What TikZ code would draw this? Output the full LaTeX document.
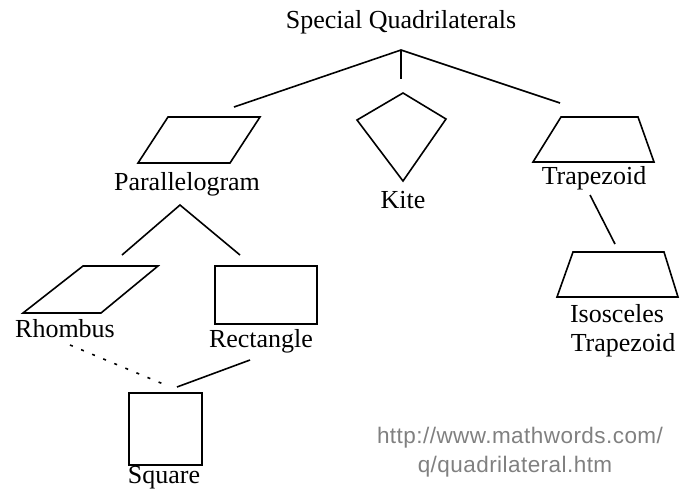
\documentclass[tikz,border=0pt]{standalone}
\usepackage{fontspec}
\setmainfont{Liberation Serif}
\newfontfamily\urlfont[LetterSpace=2]{Liberation Sans}
\begin{document}
\begin{tikzpicture}[x=1pt,y=-1pt,
  lbl/.style={anchor=base,inner sep=0pt,font=\fontsize{26}{28}\selectfont},
  urltext/.style={anchor=base,inner sep=0pt,text=black!50,font=\urlfont\fontsize{22.5}{24}\selectfont},
  shapeline/.style={line width=1.6pt,line join=miter},
  link/.style={line width=1.6pt},
  dotlink/.style={line width=1.6pt,dash pattern=on 3pt off 9pt}]
\useasboundingbox (0,0) rectangle (688,490);
% title and top branches
\node[lbl] (title) at (401,28) {Special Quadrilaterals};
\coordinate (top) at (401,50);
\coordinate (topdown) at (401,79);
\coordinate (topleft) at (234,107);
\coordinate (topright) at (560,103);
\draw[link] (top) -- (topdown);
\draw[link] (topleft) -- (top) -- (topright);
% parallelogram
\draw[shapeline] (168,117) -- (260,117) -- (230,163) -- (138,163) -- cycle;
\node[lbl] (para) at (187,190) {Parallelogram};
% kite
\draw[shapeline] (403,93) -- (446,119) -- (403,181) -- (357,120) -- cycle;
\node[lbl] (kite) at (403,208) {Kite};
% trapezoid
\draw[shapeline] (561,117) -- (638,117) -- (654,162) -- (533,162) -- cycle;
\node[lbl] (trap) at (594,184) {Trapezoid};
\coordinate (trapdown) at (590,195);
\coordinate (isoup) at (615,244);
\draw[link] (trapdown) -- (isoup);
% isosceles trapezoid
\draw[shapeline] (573,252) -- (664,252) -- (678,297) -- (557,297) -- cycle;
\node[lbl] (iso) at (617,322) {Isosceles};
\node[lbl] (iso2) at (623,351) {Trapezoid};
% parallelogram branches
\coordinate (papex) at (180,205);
\coordinate (pleft) at (122,255);
\coordinate (pright) at (240,255);
\draw[link] (pleft) -- (papex) -- (pright);
% rhombus
\draw[shapeline] (83,266) -- (158,266) -- (101,313) -- (23,313) -- cycle;
\node[lbl] (rhombus) at (65,337) {Rhombus};
% rectangle
\draw[shapeline] (215,266) rectangle (317,324);
\node[lbl] (rect) at (261,347) {Rectangle};
% links to square
\coordinate (rhdown) at (70,345);
\coordinate (sqdot) at (168,386);
\coordinate (redown) at (250,360);
\coordinate (sqline) at (177,387);
\draw[dotlink] (rhdown) -- (sqdot);
\draw[link] (redown) -- (sqline);
% square
\draw[shapeline] (129,393) rectangle (202,465);
\node[lbl] (square) at (164,483) {Square};
% url
\node[urltext] (url1) at (520,443) {http://www.mathwords.com/};
\node[urltext] (url2) at (515,472) {q/quadrilateral.htm};
\end{tikzpicture}
\end{document}
